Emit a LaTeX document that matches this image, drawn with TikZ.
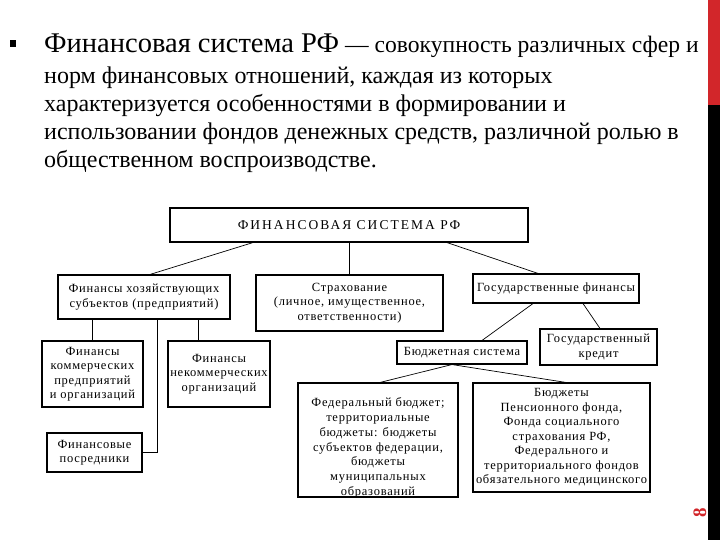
\documentclass[tikz,border=0pt]{standalone}
\usepackage{fontspec}
\setmainfont{Liberation Serif}
\newfontfamily\headfont{Liberation Serif}
\newfontfamily\boxfont[LetterSpace=6]{Liberation Serif}
\newfontfamily\capfont[LetterSpace=15]{Liberation Serif}
\definecolor{barred}{RGB}{210,38,42}
\begin{document}
\begin{tikzpicture}[x=1pt,y=-1pt,
  box/.style={draw, line width=1.1pt, inner sep=0pt, align=center, font=\boxfont\fontsize{12.5}{14.5}\selectfont},
  txt/.style={inner sep=0pt, align=center, font=\boxfont\fontsize{12.5}{14.8}\selectfont},
  link/.style={line width=0.7pt},
  head/.style={anchor=base west, inner sep=0pt, font=\headfont\fontsize{24}{28}\selectfont}]
\useasboundingbox (0,0) rectangle (720,540);
\fill[white] (0,0) rectangle (720,540);
\fill[barred] (708,0) rectangle (720,105);
\fill[black] (708,105) rectangle (720,540);
\fill (10,40) rectangle (16,47);
% heading text
\node[head] (h1) at (44,53) {{\fontsize{28.5}{28}\selectfont Финансовая система РФ} {\fontsize{23.6}{28}\selectfont — совокупность различных сфер и}};
\node[head] (h2) at (44,84) {норм финансовых отношений, каждая из которых};
\node[head] (h3) at (44,112) {характеризуется особенностями в формировании и};
\node[head] (h4) at (44,140) {использовании фондов денежных средств, различной ролью в};
\node[head] (h5) at (44,168) {общественном воспроизводстве.};
% boxes
\node[box, minimum width=358pt, minimum height=34pt] (top) at (349,225) {\capfont\fontsize{13.5}{15}\selectfont ФИНАНСОВАЯ СИСТЕМА РФ};
\node[box, minimum width=172pt, minimum height=44pt] (hoz) at (144,297) {Финансы хозяйствующих\\субъектов (предприятий)};
\node[box, minimum width=187pt, minimum height=56pt] (strah) at (349.5,303) {Страхование\\(личное, имущественное,\\ответственности)};
\node[box, minimum width=166pt, minimum height=29pt] (gosfin) at (556,288.5) {Государственные финансы};
\node[box, minimum width=101pt, minimum height=66pt] (kom) at (92.5,374) {Финансы\\коммерческих\\предприятий\\и организаций};
\node[box, minimum width=102pt, minimum height=66pt] (nekom) at (219,374) {Финансы\\некоммерческих\\организаций};
\node[box, minimum width=95pt, minimum height=39pt] (posr) at (94.5,452.5) {Финансовые\\посредники};
\node[box, minimum width=130pt, minimum height=23pt] (budsys) at (462,352.5) {Бюджетная система};
\node[box, minimum width=117pt, minimum height=36pt] (goskred) at (598.5,347) {Государственный\\кредит};
\node[box, minimum width=160pt, minimum height=114pt] (fed) at (378,440) {};
\node[txt, anchor=north] (fedtxt) at ([yshift=-15pt]fed.north) {Федеральный бюджет;\\территориальные\\бюджеты: бюджеты\\субъектов федерации,\\бюджеты\\муниципальных\\образований};
\node[box, minimum width=177pt, minimum height=109pt] (bud) at (561.5,437.5) {Бюджеты\\Пенсионного фонда,\\Фонда социального\\страхования РФ,\\Федерального и\\территориального фондов\\обязательного медицинского};
% connectors
\draw[link] (253,0 |- top.south) -- (150,0 |- hoz.north);
\draw[link] (top.south) -- (349,0 |- strah.north);
\draw[link] (447,0 |- top.south) -- (538,0 |- gosfin.north);
\draw[link] (92,0 |- hoz.south) -- (92,0 |- kom.north);
\draw[link] (198,0 |- hoz.south) -- (198,0 |- nekom.north);
\draw[link] (157,0 |- hoz.south) -- (157,0 |- posr.east) -- (posr.east);
\draw[link] (533,0 |- gosfin.south) -- (482,0 |- budsys.north);
\draw[link] (583,0 |- gosfin.south) -- (600,0 |- goskred.north);
\draw[link] (452,0 |- budsys.south) -- (380,0 |- fed.north);
\draw[link] (452,0 |- budsys.south) -- (566,0 |- bud.north);
% page number
\node[text=barred, rotate=90, inner sep=0pt, font=\headfont\bfseries\fontsize{19}{19}\selectfont] (pg) at (700,513) {8};
\end{tikzpicture}
\end{document}
